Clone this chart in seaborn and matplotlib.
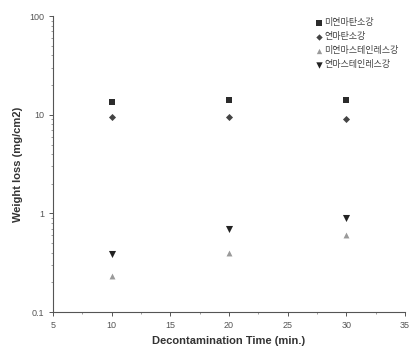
import matplotlib
matplotlib.use("Agg")
import matplotlib.pyplot as plt
import seaborn as sns
import pandas as pd
from matplotlib.ticker import LogLocator, FixedLocator, MultipleLocator, FuncFormatter

sns.set_theme(style="white")
plt.rcParams['font.family'] = ['Liberation Sans', 'Noto Sans CJK KR', 'DejaVu Sans']

times = [10, 20, 30]
series_names = ["미연마탄소강", "연마탄소강", "미연마스테인레스강", "연마스테인레스강"]
unpolished_carbon = [13.5, 14.0, 14.0]
polished_carbon = [9.5, 9.5, 9.0]
unpolished_stainless = [0.23, 0.40, 0.60]
polished_stainless = [0.39, 0.69, 0.89]

rows = []
for name, vals in zip(series_names, [unpolished_carbon, polished_carbon,
                                     unpolished_stainless, polished_stainless]):
    for t, v in zip(times, vals):
        rows.append({"time": t, "loss": v, "series": name})
df = pd.DataFrame(rows)

palette = {series_names[0]: "#2b2b2b", series_names[1]: "#444444",
           series_names[2]: "#9a9a9a", series_names[3]: "#222222"}
markers = {series_names[0]: "s", series_names[1]: "D",
           series_names[2]: "^", series_names[3]: "v"}
sizes = {series_names[0]: 20, series_names[1]: 13,
         series_names[2]: 18, series_names[3]: 26}

fig = plt.figure(figsize=(4.14, 3.58), dpi=100)
ax = fig.add_axes([0.128, 0.128, 0.85, 0.827])
for name in series_names:
    sub = df[df["series"] == name]
    sns.scatterplot(data=sub, x="time", y="loss", ax=ax, color=palette[name],
                    marker=markers[name], s=sizes[name], linewidth=0,
                    label=name)

ax.set_yscale("log")
ax.set_xlim(5, 35)
ax.set_ylim(0.1, 100)
ax.xaxis.set_major_locator(MultipleLocator(5))
ax.xaxis.set_minor_locator(MultipleLocator(2.5))
ax.yaxis.set_major_locator(FixedLocator([0.1, 1, 10, 100]))
ax.yaxis.set_minor_locator(LogLocator(base=10, subs=[2, 3, 4, 5, 6, 7, 8, 9]))
ax.yaxis.set_major_formatter(FuncFormatter(lambda v, p: f"{v:g}"))
ax.yaxis.set_minor_formatter(FuncFormatter(lambda v, p: ""))

for s in ["top", "right"]:
    ax.spines[s].set_visible(False)
for s in ["left", "bottom"]:
    ax.spines[s].set_color("#555555")
    ax.spines[s].set_linewidth(0.8)
ax.tick_params(axis="both", which="major", direction="out", length=3, width=0.7,
               labelsize=6.5, colors="#555555", labelcolor="#555555", left=True, bottom=True)
ax.tick_params(axis="both", which="minor", direction="out", length=1.5, width=0.5,
               colors="#777777", left=True, bottom=True)

ax.set_xlabel("Decontamination Time (min.)", fontsize=8, fontweight="bold", color="#333333")
ax.set_ylabel("Weight loss (mg/cm2)", fontsize=8, fontweight="bold", color="#333333")

leg = ax.legend(loc="upper left", bbox_to_anchor=(0.72, 1.02), frameon=False,
                fontsize=6.5, handletextpad=0.2, labelspacing=0.55, markerscale=0.9,
                handlelength=0.9)
for t in leg.get_texts():
    t.set_color("#444444")

fig.savefig("out.png", dpi=100)
